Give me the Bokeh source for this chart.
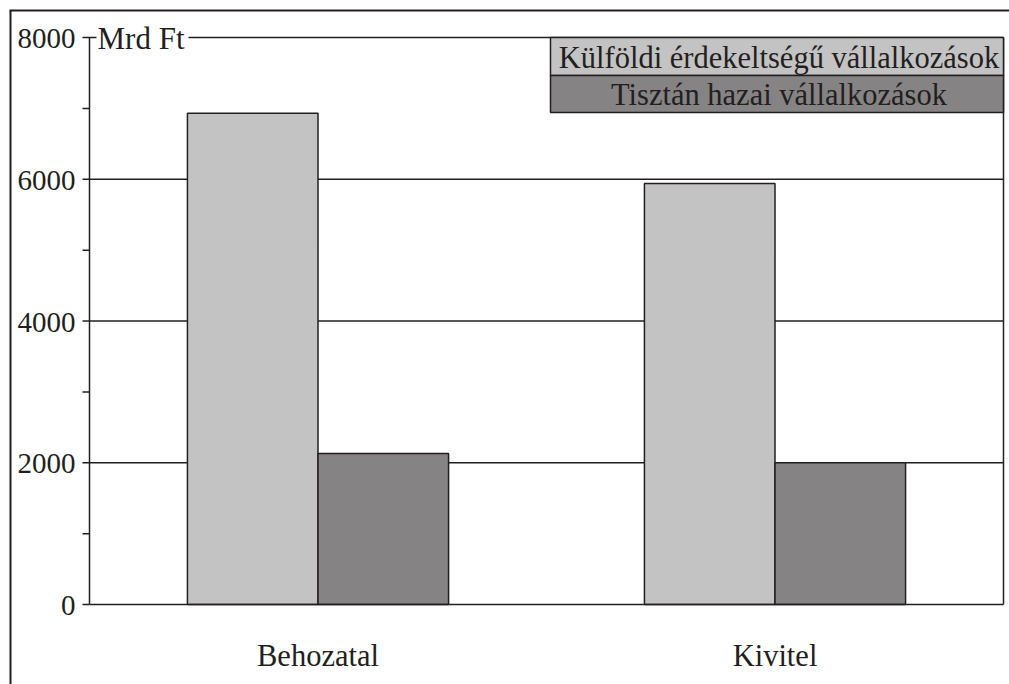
from bokeh.plotting import figure
from bokeh.models import Range1d, ColumnDataSource
from bokeh.embed import file_html
from bokeh.resources import INLINE
from bokeh.core.properties import value

# ---- data ----
categories = ["Behozatal", "Kivitel"]
series_names = ["Külföldi érdekeltségű vállalkozások", "Tisztán hazai vállalkozások"]
foreign_values = [6930, 5940]
domestic_values = [2130, 2000]
major_ticks = [0, 2000, 4000, 6000, 8000]
minor_ticks = [1000, 3000, 5000, 7000]
tick_labels = ["0", "2000", "4000", "6000", "8000"]
unit_label = "Mrd Ft"

# ---- layout (canvas pixels) ----
W, H = 1009, 684
AX_X = 89
PLOT_R = 1003
Y0_PX = 604
YTOP_PX = 37
YMAX = 8000
n = len(categories)
xscale = (PLOT_R - AX_X) / n
yscale = (Y0_PX - YTOP_PX) / YMAX


def px_x(px):
    return (px - AX_X) / xscale


def px_y(py):
    return (Y0_PX - py) / yscale


INK = "#231f20"
LIGHT = "#c3c3c3"
DARK = "#858384"
FONT = value("Liberation Serif")

p = figure(width=W, height=H,
           x_range=Range1d(px_x(0), px_x(W)), y_range=Range1d(px_y(H), px_y(0)),
           output_backend="svg", toolbar_location=None, min_border=0,
           x_axis_location=None, y_axis_location=None)
p.grid.grid_line_color = None
p.outline_line_color = None
p.background_fill_color = "white"
p.border_fill_color = "white"

# outer frame (left + top)
p.segment(x0=[px_x(10), px_x(9)], y0=[px_y(10), px_y(10)],
          x1=[px_x(10), px_x(W + 5)], y1=[px_y(H + 5), px_y(10)],
          line_color=INK, line_width=2)

# gridlines
grid_vals = [t for t in major_ticks if 0 < t < YMAX]
p.segment(x0=[0] * len(grid_vals), x1=[n] * len(grid_vals), y0=grid_vals, y1=grid_vals,
          line_color=INK, line_width=1.5)
p.segment(x0=[px_x(188)], x1=[n], y0=[YMAX], y1=[YMAX], line_color=INK, line_width=1.5)

# bars
centers = [i + 0.5 for i in range(n)]
bw = 2 / 7
src = ColumnDataSource(dict(
    xf=[c - bw / 2 for c in centers], xd=[c + bw / 2 for c in centers],
    foreign=foreign_values, domestic=domestic_values))
p.vbar(x="xf", top="foreign", bottom=0, width=bw, source=src,
       fill_color=LIGHT, line_color=INK, line_width=1.5)
p.vbar(x="xd", top="domestic", bottom=0, width=bw, source=src,
       fill_color=DARK, line_color=INK, line_width=1.5)

# axis line, baseline, right frame
p.segment(x0=[0, 0, n], y0=[0, 0, 0], x1=[0, n, n], y1=[YMAX, 0, YMAX],
          line_color=INK, line_width=1.5)

# ticks
tick_x0 = px_x(82)
p.segment(x0=[tick_x0] * len(major_ticks), x1=[0 if t < YMAX else px_x(96) for t in major_ticks],
          y0=major_ticks, y1=major_ticks, line_color=INK, line_width=1.5)
p.segment(x0=[tick_x0] * len(minor_ticks), x1=[0] * len(minor_ticks),
          y0=minor_ticks, y1=minor_ticks, line_color=INK, line_width=1.5)

# tick labels
p.text(x=[px_x(75)] * len(major_ticks), y=major_ticks, text=tick_labels,
       text_align="right", text_baseline="middle", y_offset=1,
       text_font=FONT, text_font_size="29px", text_color=INK)

# unit label
p.text(x=[px_x(97)], y=[YMAX], text=[unit_label], text_align="left", text_baseline="middle",
       y_offset=1, text_font=FONT, text_font_size="31px", text_color=INK)

# category labels
p.text(x=centers, y=[px_y(655)] * n, text=categories, text_align="center",
       text_baseline="middle", text_font=FONT, text_font_size="30.5px", text_color=INK)

# legend boxes
lx0, lx1 = px_x(550), px_x(1003)
rows = [(37, 75), (75, 112)]
p.quad(left=[lx0] * 2, right=[lx1] * 2,
       top=[px_y(r[0]) for r in rows], bottom=[px_y(r[1]) for r in rows],
       fill_color=[LIGHT, DARK], line_color=INK, line_width=1.5)
p.text(x=[(lx0 + lx1) / 2 + 2 / xscale] * 2, y=[px_y((r[0] + r[1]) / 2) for r in rows],
       text=series_names, text_align="center", text_baseline="middle", y_offset=1,
       text_font=FONT, text_font_size="30.5px", text_color=INK)

open("out.html", "w").write(file_html(p, INLINE))
